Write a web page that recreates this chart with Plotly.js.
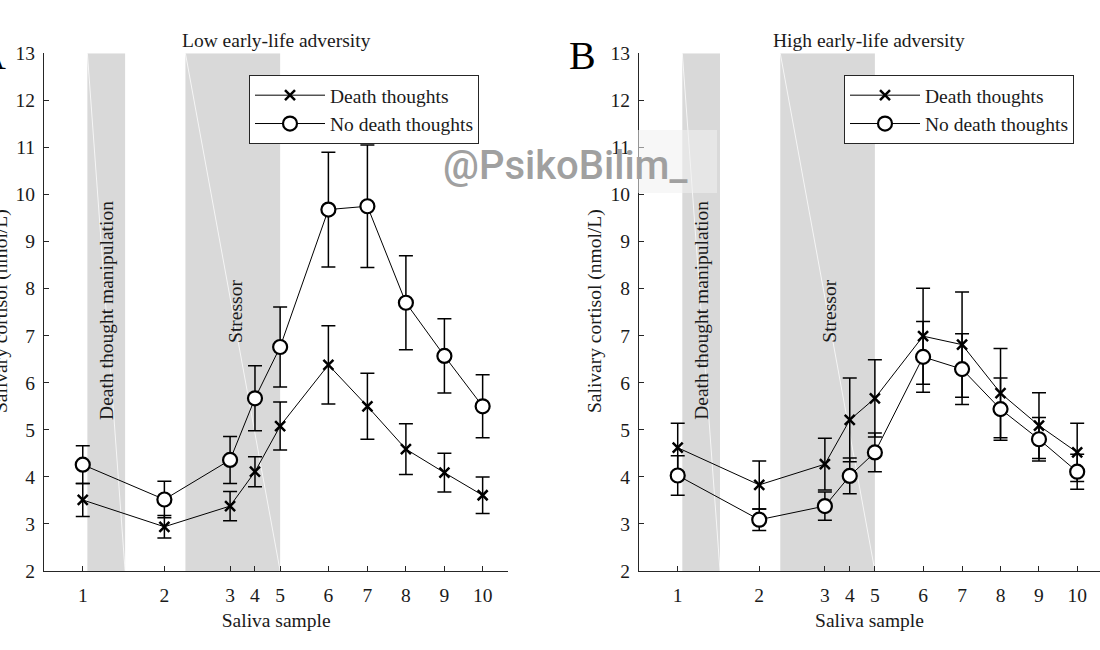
<!DOCTYPE html>
<html><head><meta charset="utf-8">
<script src="https://cdn.plot.ly/plotly-3.0.1.min.js"></script>
<style>html,body{margin:0;padding:0;background:#fff}</style>
</head><body><div id="chart" style="width:1100px;height:650px"></div>
<script>
// Sample labels and their (estimated) sampling times in minutes
const sampleLabels = ['1','2','3','4','5','6','7','8','9','10'];
const sampleTimes = [0, 31.8, 57.4, 67.1, 76.9, 95.7, 110.9, 125.9, 140.9, 155.8];

// Panel A: low early-life adversity
const lowDeath      = [3.51, 2.94, 3.38, 4.11, 5.08, 6.38, 5.50, 4.59, 4.09, 3.61];
const lowDeathErr   = [0.35, 0.24, 0.31, 0.32, 0.51, 0.83, 0.70, 0.54, 0.41, 0.39];
const lowNoDeath    = [4.26, 3.52, 4.36, 5.67, 6.76, 9.68, 9.75, 7.70, 6.57, 5.50];
const lowNoDeathErr = [0.40, 0.39, 0.50, 0.69, 0.85, 1.22, 1.30, 1.00, 0.79, 0.67];

// Panel B: high early-life adversity
const highDeath      = [4.62, 3.83, 4.27, 5.21, 5.67, 6.99, 6.81, 5.78, 5.09, 4.52];
const highDeathErr   = [0.52, 0.51, 0.55, 0.89, 0.82, 1.02, 1.12, 0.95, 0.70, 0.62];
const highNoDeath    = [4.03, 3.09, 3.38, 4.02, 4.52, 6.55, 6.29, 5.44, 4.80, 4.11];
const highNoDeathErr = [0.42, 0.23, 0.30, 0.38, 0.41, 0.75, 0.75, 0.66, 0.46, 0.37];

// Shaded periods (minutes)
const manipPeriod = [1.8, 16.5];
const stressPeriod = [40, 76.9];

const seriesNames = ['Death thoughts', 'No death thoughts'];
const panelTitles = ['Low early-life adversity', 'High early-life adversity'];
const yTitle = 'Salivary cortisol (nmol/L)';
const xTitle = 'Saliva sample';

const SERIF = 'Liberation Serif, Times New Roman, serif';
const AX = '#262626';
const TXT = '#1a1a1a';
const FS = 19.5;

function deathTrace(y, err, xa, ya, leg) {
  return {
    x: sampleTimes, y: y, xaxis: xa, yaxis: ya, legend: leg,
    name: seriesNames[0], type: 'scatter', mode: 'lines+markers',
    line: {color: '#000', width: 1},
    marker: {symbol: 'x-thin', size: 10, color: '#000', line: {color: '#000', width: 2.5}},
    error_y: {type: 'data', array: err, visible: true, color: '#000', thickness: 1.5, width: 7}
  };
}
function noDeathTrace(y, err, xa, ya, leg) {
  return {
    x: sampleTimes, y: y, xaxis: xa, yaxis: ya, legend: leg,
    name: seriesNames[1], type: 'scatter', mode: 'lines+markers',
    line: {color: '#000', width: 1},
    marker: {symbol: 'circle', size: 14, color: '#fff', line: {color: '#000', width: 2.2}},
    error_y: {type: 'data', array: err, visible: true, color: '#000', thickness: 1.5, width: 7}
  };
}

const data = [
  deathTrace(lowDeath, lowDeathErr, 'x', 'y', 'legend'),
  noDeathTrace(lowNoDeath, lowNoDeathErr, 'x', 'y', 'legend'),
  deathTrace(highDeath, highDeathErr, 'x2', 'y2', 'legend2'),
  noDeathTrace(highNoDeath, highNoDeathErr, 'x2', 'y2', 'legend2')
];

function xAxis(domain, range, anchor) {
  return {
    domain: domain, range: range, anchor: anchor,
    tickmode: 'array', tickvals: sampleTimes, ticktext: sampleLabels,
    ticks: 'inside', ticklen: 5, tickwidth: 1, tickcolor: AX,
    showline: true, linecolor: AX, linewidth: 1, showgrid: false, zeroline: false,
    ticklabelstandoff: 7,
    tickfont: {family: SERIF, size: FS, color: TXT},
    title: {text: xTitle, font: {family: SERIF, size: FS, color: TXT}, standoff: 7},
    automargin: false, fixedrange: true
  };
}
function yAxis(anchor) {
  return {
    domain: [0.1215, 0.918], range: [2, 13], anchor: anchor,
    tickmode: 'linear', tick0: 2, dtick: 1,
    ticks: 'inside', ticklen: 5, tickwidth: 1, tickcolor: AX,
    showline: true, linecolor: AX, linewidth: 1, showgrid: false, zeroline: false,
    ticklabelstandoff: 4,
    tickfont: {family: SERIF, size: FS, color: TXT},
    automargin: false, fixedrange: true
  };
}

const shapes = [];
[['x','y'],['x2','y2']].forEach(([xa, ya]) => {
  [manipPeriod, stressPeriod].forEach(p => {
    shapes.push({type: 'rect', xref: xa, yref: ya, x0: p[0], x1: p[1], y0: 2, y1: 13,
      fillcolor: '#d9d9d9', line: {width: 0}, layer: 'below'});
    shapes.push({type: 'line', xref: xa, yref: ya, x0: p[0], x1: p[1], y0: 13, y1: 2,
      line: {color: 'rgba(255,255,255,0.75)', width: 1}, layer: 'below'});
  });
});
// watermark backdrop
shapes.push({type: 'rect', xref: 'paper', yref: 'paper', x0: 638/1100, x1: 717/1100,
  y0: 1 - 193/650, y1: 1 - 130/650, fillcolor: 'rgba(240,240,240,0.55)', line: {width: 0}, layer: 'above'});

const annotations = [];
const yTitleX = [1, 595];
[['x','y'],['x2','y2']].forEach(([xa, ya], i) => {
  annotations.push({xref: xa + ' domain', yref: 'paper', x: 0.5, y: 1 - 41/650,
    text: panelTitles[i], showarrow: false, xanchor: 'center', yanchor: 'middle',
    font: {family: SERIF, size: FS, color: TXT}});
  annotations.push({xref: 'paper', yref: 'paper', x: yTitleX[i]/1100, y: 1 - 311/650,
    text: yTitle, textangle: -90, showarrow: false, xanchor: 'center', yanchor: 'middle',
    font: {family: SERIF, size: FS, color: TXT}});
  annotations.push({xref: xa, yref: ya, x: 9.5, y: 7.53, text: 'Death thought manipulation',
    textangle: -90, showarrow: false, xanchor: 'center', yanchor: 'middle',
    font: {family: SERIF, size: FS, color: TXT}});
  annotations.push({xref: xa, yref: ya, x: 59.4, y: 7.51, text: 'Stressor',
    textangle: -90, showarrow: false, xanchor: 'center', yanchor: 'middle',
    font: {family: SERIF, size: FS, color: TXT}});
});
annotations.push({xref: 'paper', yref: 'paper', x: 582/1100, y: 1 - 55/650, text: 'B',
  showarrow: false, xanchor: 'center', yanchor: 'middle', font: {family: SERIF, size: 40, color: '#000'}});
annotations.push({xref: 'paper', yref: 'paper', x: 8/1100, y: 1 - 55/650, text: 'A',
  showarrow: false, xanchor: 'right', yanchor: 'middle', font: {family: SERIF, size: 40, color: '#000'}});
annotations.push({xref: 'paper', yref: 'paper', x: 565/1100, y: 1 - 165/650, text: '@PsikoBilim_',
  showarrow: false, xanchor: 'center', yanchor: 'middle',
  font: {family: 'Roboto, Open Sans, sans-serif', size: 40, color: '#a0a0a0', weight: 500}});

const legendBase = {
  yanchor: 'top', xanchor: 'left', y: 1 - 75/650,
  bgcolor: '#fff', bordercolor: AX, borderwidth: 1,
  font: {family: SERIF, size: FS, color: TXT},
  itemwidth: 70, tracegroupgap: 0, itemclick: false, itemdoubleclick: false
};

const layout = {
  width: 1100, height: 650,
  margin: {l: 0, r: 0, t: 0, b: 0},
  paper_bgcolor: '#fff', plot_bgcolor: 'rgba(0,0,0,0)',
  showlegend: true,
  legend: Object.assign({}, legendBase, {x: 249/1100}),
  legend2: Object.assign({}, legendBase, {x: 844/1100}),
  xaxis: xAxis([0.04, 0.4621], [-15.1, 165.8], 'y'),
  yaxis: yAxis('x'),
  xaxis2: xAxis([0.5809, 1.0], [-15.1, 164.7], 'y2'),
  yaxis2: yAxis('x2'),
  shapes: shapes,
  annotations: annotations
};

Plotly.newPlot('chart', data, layout, {displayModeBar: false, staticPlot: true});
</script>
</body></html>
